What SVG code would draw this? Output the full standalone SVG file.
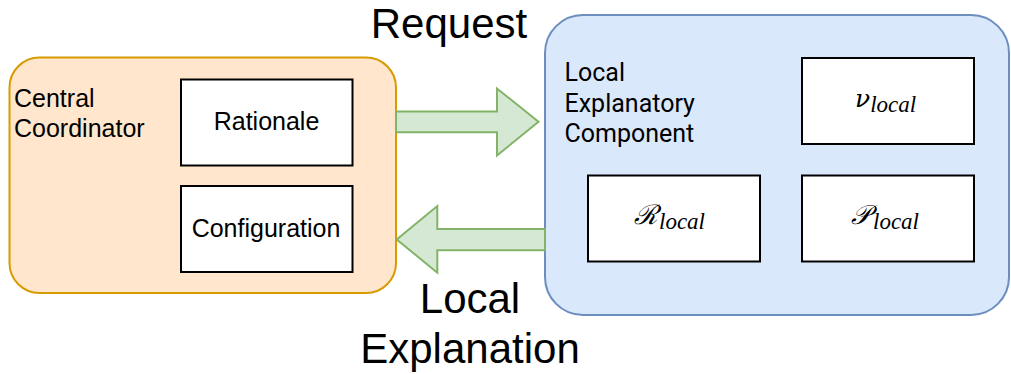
<svg xmlns="http://www.w3.org/2000/svg" width="1011" height="374" viewBox="0 0 1011 374">
<style>
.inner{fill:#ffffff;stroke:#000000;stroke-width:2}
.lbl{font-family:"Liberation Sans",Arial,sans-serif;fill:#000000}
.rob{font-family:Roboto,"Liberation Sans",sans-serif;fill:#000000}
.math{font-family:"Liberation Serif","DejaVu Serif",serif;font-style:italic;fill:#000000}
.arrow{fill:#d5e8d4;stroke:#82b366;stroke-width:2;stroke-linejoin:miter}
</style>
<rect width="1011" height="374" fill="#ffffff"/>
<g id="central-coordinator">
  <rect x="9.5" y="57.5" width="386.5" height="235.5" rx="30" ry="30" fill="#ffe6cc" stroke="#d79b00" stroke-width="2"/>
  <text class="lbl" font-size="25" x="14" y="106.7">Central</text>
  <text class="lbl" font-size="25" x="14" y="136.7">Coordinator</text>
</g>
<g id="rationale">
  <rect class="inner" x="181" y="79.5" width="171.5" height="86"/>
  <text class="lbl" font-size="25" x="266.5" y="130" text-anchor="middle">Rationale</text>
</g>
<g id="configuration">
  <rect class="inner" x="181" y="186" width="171.5" height="86"/>
  <text class="lbl" font-size="25" x="266" y="236.7" text-anchor="middle">Configuration</text>
</g>
<g id="local-explanatory-component">
  <rect x="545" y="15" width="464" height="300" rx="38" ry="38" fill="#dae8fc" stroke="#6c8ebf" stroke-width="2"/>
  <text class="rob" font-size="25" x="564.5" y="81">Local</text>
  <text class="rob" font-size="25" x="564.5" y="111.5">Explanatory</text>
  <text class="rob" font-size="25" x="564.5" y="141.5">Component</text>
</g>
<g id="nu-local">
  <rect class="inner" x="802" y="58" width="172" height="86"/>
  <text class="math" x="855" y="106.5"><tspan font-family="'DejaVu Serif',serif" font-size="25">ν</tspan><tspan font-size="23" dy="5">local</tspan></text>
</g>
<g id="r-local">
  <rect class="inner" x="588" y="175.5" width="172" height="86"/>
  <text class="math" font-size="27" x="634" y="223.5">ℛ<tspan font-size="23" dy="5" dx="1">local</tspan></text>
</g>
<g id="p-local">
  <rect class="inner" x="802" y="175.5" width="172" height="86"/>
  <text class="math" font-size="27" x="851" y="223.5">𝒫<tspan font-size="23" dy="5" dx="3">local</tspan></text>
</g>
<g id="connectors">
  <polygon class="arrow" points="396,111.5 497,111.5 497,88.5 538.5,121.8 497,155.5 497,132.3 396,132.3"/>
  <polygon class="arrow" points="545,229 437.3,229 437.3,206 396.7,239.4 437.3,272.7 437.3,250.3 545,250.3"/>
  <text class="lbl" font-size="42" x="449" y="37.7" text-anchor="middle">Request</text>
  <text class="lbl" font-size="42" x="470" y="313.3" text-anchor="middle">Local</text>
  <text class="lbl" font-size="42" x="470" y="363.3" text-anchor="middle">Explanation</text>
</g>
</svg>
